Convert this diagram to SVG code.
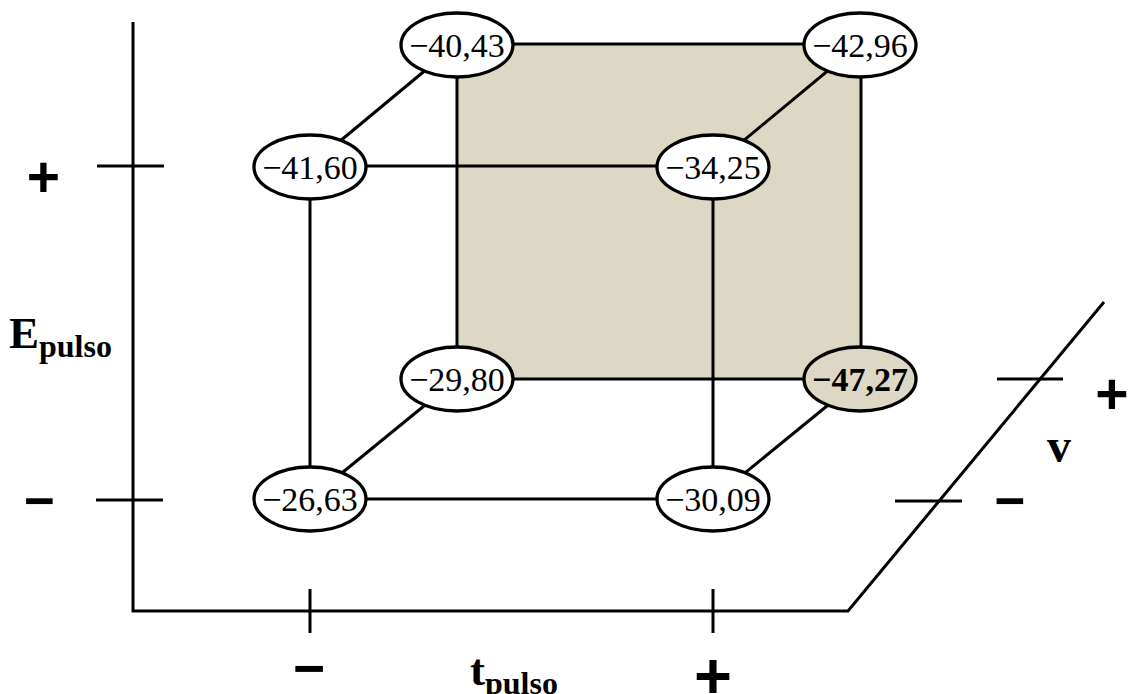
<svg xmlns="http://www.w3.org/2000/svg" width="1129" height="694" viewBox="0 0 1129 694">
<style>
.ln{stroke:#000;stroke-width:3;fill:none}
.nd{fill:#fff;stroke:#000;stroke-width:3.3}
.hl{fill:#dcd8c3;stroke:#000;stroke-width:3.3}
.nt{font-family:"Liberation Serif",serif;font-size:34px;text-anchor:middle;dominant-baseline:central}
.lb{font-family:"Liberation Serif",serif;font-weight:bold}
.sg{font-family:"Liberation Sans",sans-serif;font-weight:bold;text-anchor:middle}
</style>
<rect x="0" y="0" width="1129" height="694" fill="#fff"/>
<g id="axes">
<polyline class="ln" points="133,22 133,611 848,611 1104,302"/>
<line class="ln" x1="97" y1="166" x2="164" y2="166"/>
<line class="ln" x1="96" y1="500" x2="163" y2="500"/>
<line class="ln" x1="310" y1="589" x2="310" y2="633"/>
<line class="ln" x1="713" y1="589" x2="713" y2="633"/>
<line class="ln" x1="997" y1="379" x2="1063" y2="379"/>
<line class="ln" x1="895" y1="501" x2="962" y2="501"/>
</g>
<g id="labels">
<text class="sg" x="43.5" y="197" font-size="57">+</text>
<text class="sg" x="39.5" y="519" font-size="53">−</text>
<text class="sg" x="309" y="687" font-size="55">−</text>
<text class="sg" x="713" y="698" font-size="65">+</text>
<text class="sg" x="1112" y="414" font-size="57">+</text>
<text class="sg" x="1010" y="519" font-size="53">−</text>
<text class="lb" x="1059" y="462" font-size="48" text-anchor="middle">v</text>
<text class="lb" x="9" y="348" font-size="45">E<tspan font-size="32" dy="9">pulso</tspan></text>
<text class="lb" x="470" y="685" font-size="45">t<tspan font-size="32" dy="9">pulso</tspan></text>
</g>
<g id="face">
<rect x="457" y="44" width="404" height="335" fill="#dcd8c3" stroke="#000" stroke-width="3"/>
</g>
<g id="connectors">
<line class="ln" x1="310" y1="166" x2="713" y2="166"/>
<line class="ln" x1="310" y1="499" x2="713" y2="499"/>
<line class="ln" x1="310" y1="166" x2="310" y2="499"/>
<line class="ln" x1="713" y1="166" x2="713" y2="499"/>
<line class="ln" x1="310" y1="166" x2="457" y2="44"/>
<line class="ln" x1="713" y1="166" x2="860" y2="44"/>
<line class="ln" x1="310" y1="499" x2="457" y2="379"/>
<line class="ln" x1="713" y1="499" x2="860" y2="379"/>
</g>
<g id="n1"><ellipse class="nd" cx="457" cy="45" rx="56" ry="32"/><text class="nt" x="457" y="45">−40,43</text></g>
<g id="n2"><ellipse class="nd" cx="860" cy="45" rx="56" ry="32"/><text class="nt" x="860" y="45">−42,96</text></g>
<g id="n3"><ellipse class="nd" cx="310" cy="167" rx="56" ry="32"/><text class="nt" x="310" y="167">−41,60</text></g>
<g id="n4"><ellipse class="nd" cx="713" cy="167" rx="56" ry="32"/><text class="nt" x="713" y="167">−34,25</text></g>
<g id="n5"><ellipse class="nd" cx="457" cy="379" rx="56" ry="32"/><text class="nt" x="457" y="379">−29,80</text></g>
<g id="n6"><ellipse class="hl" cx="860" cy="379" rx="56" ry="32"/><text class="nt" x="860" y="379" font-weight="bold">−47,27</text></g>
<g id="n7"><ellipse class="nd" cx="310" cy="499" rx="56" ry="32"/><text class="nt" x="310" y="499">−26,63</text></g>
<g id="n8"><ellipse class="nd" cx="713" cy="499" rx="56" ry="32"/><text class="nt" x="713" y="499">−30,09</text></g>
</svg>
